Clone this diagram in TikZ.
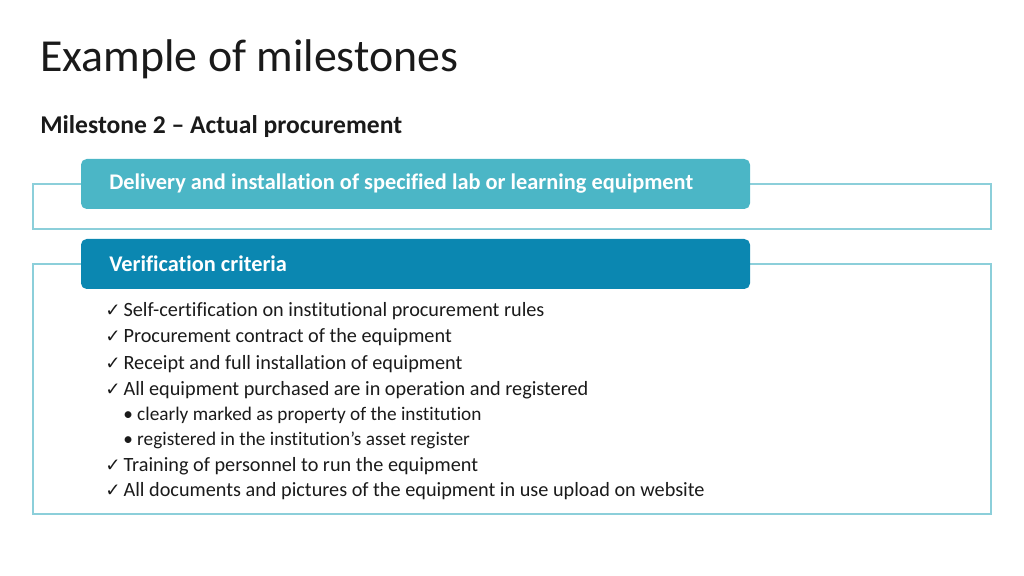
\documentclass[tikz,border=0pt]{standalone}
\usepackage{fontspec}
\setmainfont[Ligatures={NoCommon}]{Carlito}
\newfontfamily\symfont{DejaVu Sans}
\usetikzlibrary{positioning}
\definecolor{tealline}{HTML}{8CCFDA}
\definecolor{headlight}{HTML}{4BB6C6}
\definecolor{headdark}{HTML}{0B87B1}
\definecolor{txt}{HTML}{1A1A1A}
\newcommand{\chk}{\makebox[13pt][l]{\symfont\bfseries\fontsize{13pt}{15pt}\selectfont ✓}}

\begin{document}
\begin{tikzpicture}[x=0.025cm, y=-0.025cm,
    frame/.style={draw=tealline, line width=0.9pt},
    header/.style={rounded corners=4pt, line width=0pt},
    headtext/.style={anchor=west, inner sep=0pt, text=white, font=\fontsize{15.9pt}{18pt}\selectfont\bfseries},
    item/.style={anchor=base west, inner sep=0pt, text=txt, font=\fontsize{14.4pt}{17pt}\selectfont},
    subitem/.style={anchor=base west, inner sep=0pt, text=txt, font=\fontsize{13.7pt}{16pt}\selectfont}
]
\useasboundingbox (0,0) rectangle (1024,576);

% Titles
\node[anchor=base west, inner sep=0pt, text=txt, font=\fontsize{32.6pt}{38pt}\selectfont] (title) at (40,72) {Example of milestones};
\node[anchor=base west, inner sep=0pt, text=txt, font=\fontsize{18.2pt}{21pt}\selectfont\bfseries] (subtitle) at (40,134) {Milestone 2 -- Actual procurement};

% Delivery block
\draw[frame] (33,184) rectangle (991,229);
\fill[header, headlight] (81,159) rectangle (750,209);
\node[headtext] (delivery) at (109,184) {Delivery and installation of specified lab or learning equipment};

% Verification block
\draw[frame] (33,264) rectangle (991,514);
\fill[header, headdark] (81,239) rectangle (750,289);
\node[headtext] (verif) at (109,264) {Verification criteria};

% Criteria
\node[item] (c1) at (105,317) {\chk Self-certification on institutional procurement rules};
\node[item] (c2) at (105,343) {\chk Procurement contract of the equipment};
\node[item] (c3) at (105,369) {\chk Receipt and full installation of equipment};
\node[item] (c4) at (105,395) {\chk All equipment purchased are in operation and registered};
\node[subitem] (c5) at (123,420) {• clearly marked as property of the institution};
\node[subitem] (c6) at (123,445) {• registered in the institution’s asset register};
\node[item] (c7) at (105,471) {\chk Training of personnel to run the equipment};
\node[item] (c8) at (105,496) {\chk All documents and pictures of the equipment in use upload on website};

\end{tikzpicture}
\end{document}
